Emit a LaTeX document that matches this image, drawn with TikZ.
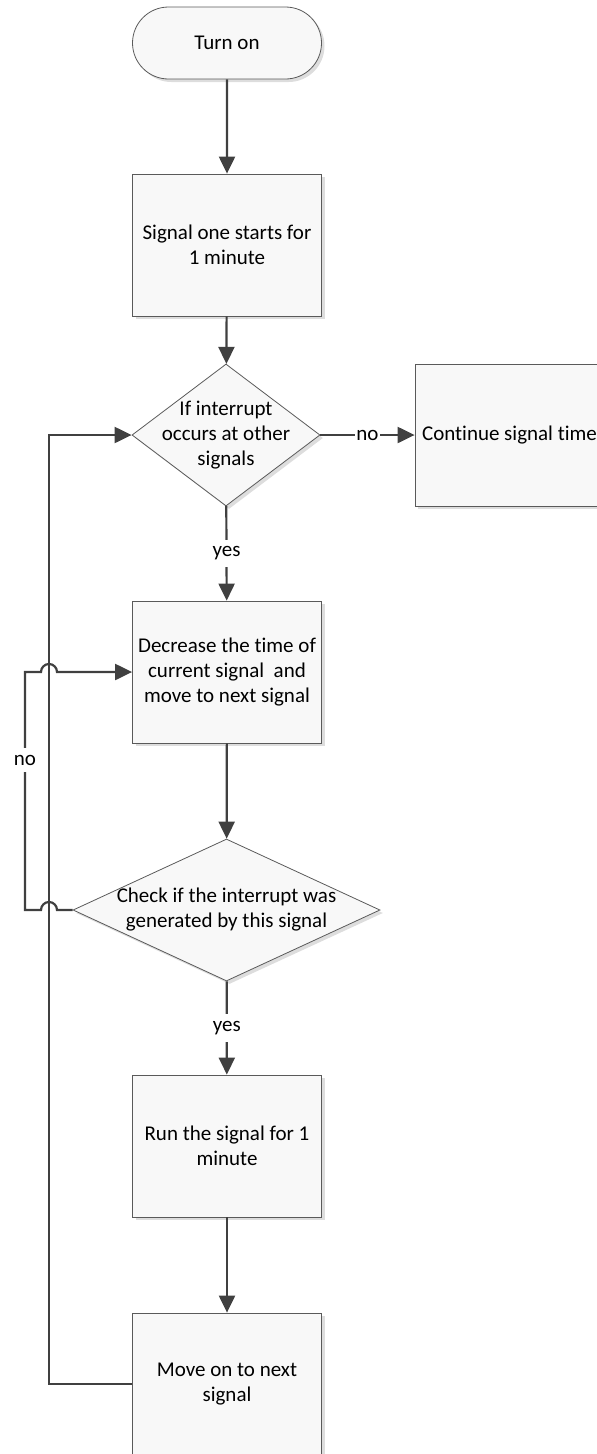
\documentclass[tikz,border=0pt]{standalone}
\usepackage{fontspec}
\setmainfont{Carlito}[Ligatures={NoCommon}]
\usetikzlibrary{shapes.geometric,shapes.misc,arrows.meta,shadows}
\definecolor{linec}{HTML}{404040}
\definecolor{boxfill}{HTML}{F8F8F8}
\definecolor{boxdraw}{HTML}{5A5A5A}
\definecolor{shadowc}{HTML}{DDDDDD}
\begin{document}
\begin{tikzpicture}[x=1pt,y=-1pt,
 every node/.style={font=\fontsize{21}{25}\selectfont},
 shapebase/.style={draw=boxdraw, fill=boxfill, line width=0.8pt,
   drop shadow={shadow xshift=3pt, shadow yshift=-3pt, opacity=1, fill=shadowc}},
 procbox/.style={shapebase, rectangle, minimum width=189pt, minimum height=142pt, align=center, inner sep=0pt},
 termbox/.style={shapebase, rounded rectangle, minimum width=189pt, minimum height=72pt, inner sep=0pt},
 decbox/.style={shapebase, diamond, minimum width=#1, minimum height=142pt, inner sep=0pt},
 conn/.style={draw=linec, line width=2.2pt},
 arr/.style={conn, -{Triangle[length=17pt,width=16pt]}},
 lbl/.style={fill=white, inner xsep=1pt, inner ysep=7pt},
]
\path[use as bounding box, clip] (0,0) rectangle (597,1454);

\node[termbox] (t) at (227,43) {Turn on};
\node[procbox] (b1) at (227,245) {Signal one starts for\\1 minute};
\node[decbox=188pt, label={[align=center]center:If interrupt\\occurs at other\\signals}] (d1) at (226,435) {};
\node[procbox] (c) at (509.5,435) {Continue signal time};
\node[procbox] (b2) at (227,672) {Decrease the time of\\current signal\ \ and\\move to next signal};
\node[decbox=307pt, label={[align=center]center:Check if the interrupt was\\generated by this signal}] (d2) at (226.5,910) {};
\node[procbox] (b3) at (227,1146) {Run the signal for 1\\minute};
\node[procbox] (b4) at (227,1384) {Move on to next\\signal};

\coordinate (lx) at (49,0);

\draw[arr] (t) -- (b1);
\draw[arr] (b1) -- (d1);
\draw[arr] (d1.east) -- node[lbl]{no} (c.west);
\draw[arr] (d1) -- node[lbl]{yes} (b2);
\draw[arr] (b2) -- (d2);
\draw[arr] (d2) -- node[lbl]{yes} (b3);
\draw[arr] (b3) -- (b4);
\draw[arr] (b4.west) -- (b4.west -| lx) -- (d1.west -| lx) -- (d1.west);
\draw[arr] (d2.west) -- (57,910) arc[start angle=0,end angle=180,radius=8pt]
  -- (25,910) -- node[lbl,pos=0.63]{no} (25,672)
  -- (41,672) arc[start angle=180,end angle=0,radius=8pt] -- (b2.west);
\end{tikzpicture}
\end{document}
